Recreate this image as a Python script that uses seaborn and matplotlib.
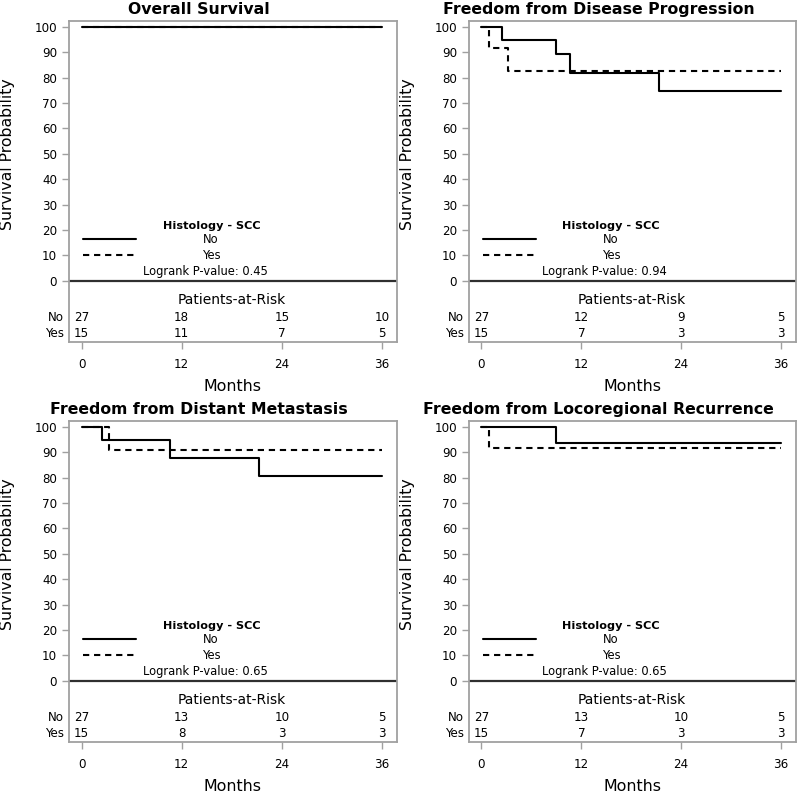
import pandas as pd
import matplotlib.pyplot as plt
import seaborn as sns
from matplotlib.lines import Line2D

# --- Data (months, survival %) ---
titles = ["Overall Survival", "Freedom from Disease Progression",
          "Freedom from Distant Metastasis", "Freedom from Locoregional Recurrence"]

no_times = [[0, 36], [0, 2.5, 9.0, 10.6, 21.3, 36], [0, 2.5, 10.6, 21.3, 36], [0, 9.0, 36]]
no_surv = [[100, 100], [100, 94.9, 89.1, 82.0, 74.7, 74.7], [100, 94.9, 87.9, 80.6, 80.6], [100, 93.8, 93.8]]
yes_times = [[0, 36], [0, 0.9, 3.2, 36], [0, 3.3, 36], [0, 0.9, 36]]
yes_surv = [[100, 100], [100, 91.7, 82.5, 82.5], [100, 91.0, 91.0], [100, 91.6, 91.6]]

risk_months = [0, 12, 24, 36]
risk_no = [[27, 18, 15, 10], [27, 12, 9, 5], [27, 13, 10, 5], [27, 13, 10, 5]]
risk_yes = [[15, 11, 7, 5], [15, 7, 3, 3], [15, 8, 3, 3], [15, 7, 3, 3]]
pvalues = ["0.45", "0.94", "0.65", "0.65"]

sns.set_theme(style="ticks", rc={"text.color": "black", "axes.labelcolor": "black",
                                 "xtick.color": "black", "ytick.color": "black"})
plt.rcParams['font.family'] = ['DejaVu Sans']

W, H = 797, 792
fig = plt.figure(figsize=(W / 100, H / 100), dpi=100)

# panel frames in pixels: (left, top, width, height)
frames = [(69, 20.7, 328, 321.3), (469, 20.7, 327, 321.3),
          (69, 420.7, 328, 321.3), (469, 420.7, 327, 321.3)]

frame_col = "#a0a0a0"
dash = (3, 2.3)

for i in range(4):
    l, t, w, h = frames[i]
    ax = fig.add_axes([l / W, 1 - (t + h) / H, w / W, h / H])

    df = pd.concat([
        pd.DataFrame({"month": no_times[i], "surv": no_surv[i], "group": "No"}),
        pd.DataFrame({"month": yes_times[i], "surv": yes_surv[i], "group": "Yes"}),
    ])
    sns.lineplot(data=df, x="month", y="surv", style="group", style_order=["No", "Yes"],
                 dashes={"No": "", "Yes": dash}, color="black", linewidth=1.5,
                 drawstyle="steps-post", estimator=None, legend=False, ax=ax)

    ax.axhline(0, color="#303030", linewidth=1.6)

    ax.set_xlim(-1.5, 37.8)
    ax.set_ylim(-24.1, 102.4)
    ax.set_xticks(risk_months)
    ax.set_yticks(range(0, 101, 10))
    ax.tick_params(axis="both", direction="out", length=5, width=1, color=frame_col,
                   labelsize=8.6, labelcolor="black")
    ax.tick_params(axis="x", pad=6.5)
    ax.tick_params(axis="y", pad=3.6)
    for s in ax.spines.values():
        s.set_visible(True)
        s.set_color(frame_col)
        s.set_linewidth(1.3)

    ax.set_title(titles[i], x=0.397, pad=4.8, fontsize=11.3, fontweight="bold", color="black")
    ax.set_ylabel("Survival Probability", fontsize=11.3, va="center")
    ax.yaxis.set_label_coords(-0.1875, 0.585)
    ax.set_xlabel("Months", fontsize=11.4, va="center")
    ax.xaxis.set_label_coords(0.5, -0.137)

    # legend
    handles = [Line2D([], [], color="black", lw=1.5),
               Line2D([], [], color="black", lw=1.5, dashes=dash)]
    ax.legend(handles=handles, labels=["No", "Yes"], loc="upper left",
              bbox_to_anchor=(0.0427, 0.34), frameon=False, fontsize=8.3,
              handlelength=4.6, handletextpad=5.8, labelspacing=0.3,
              borderpad=0, borderaxespad=0, labelcolor="black")
    ax.text(15.6, 21.6, "Histology - SCC", fontsize=8.1, fontweight="bold",
            ha="center", va="center")
    ax.text(14.8, 3.5, "Logrank P-value: " + pvalues[i], fontsize=8.3,
            ha="center", va="center")

    # patients-at-risk table
    ax.text(18, -7.6, "Patients-at-Risk", fontsize=10, ha="center", va="center")
    yt = ax.get_yaxis_transform()
    ax.text(-0.015, -14.4, "No", transform=yt, fontsize=8.6, ha="right", va="center")
    ax.text(-0.015, -20.7, "Yes", transform=yt, fontsize=8.6, ha="right", va="center")
    for m, n_no, n_yes in zip(risk_months, risk_no[i], risk_yes[i]):
        ax.text(m, -14.4, str(n_no), fontsize=8.6, ha="center", va="center")
        ax.text(m, -20.7, str(n_yes), fontsize=8.6, ha="center", va="center")

fig.savefig("out.png", dpi=100)
